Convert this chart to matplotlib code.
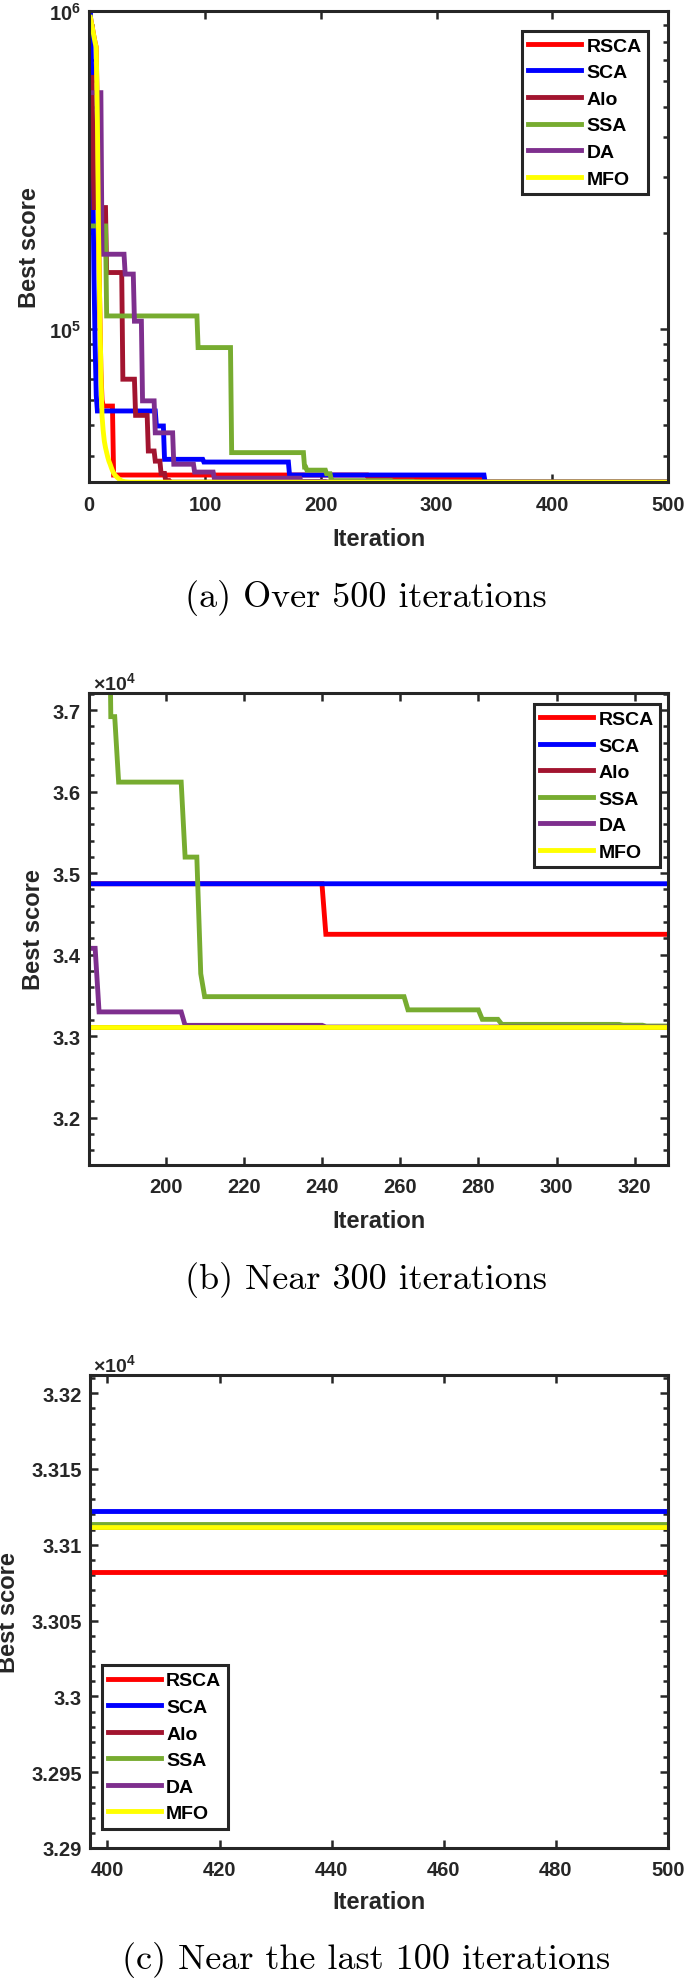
import math
import matplotlib
matplotlib.use("Agg")
import matplotlib.pyplot as plt
from matplotlib.ticker import FixedLocator, FuncFormatter, MultipleLocator, NullLocator, LogLocator

plt.rcParams['font.family'] = ['Liberation Sans', 'DejaVu Sans']
plt.rcParams['font.weight'] = 'bold'
plt.rcParams['mathtext.fontset'] = 'custom'
plt.rcParams['mathtext.rm'] = 'Liberation Sans:bold'
plt.rcParams['mathtext.bf'] = 'Liberation Sans:bold'
plt.rcParams['mathtext.it'] = 'Liberation Sans:bold'

# ---------------- data (iteration, best score) vertices ----------------
algorithms = ['RSCA', 'SCA', 'Alo', 'SSA', 'DA', 'MFO']
colors = ['#FF0000', '#0000FF', '#A2142F', '#77AC30', '#7E2F8E', '#FFFF00']

rsca_iter = [1, 2, 3, 4, 5, 6, 7, 8, 9, 10, 11, 12, 20, 21, 240, 241, 339, 340, 500]
rsca_val = [953e3, 910e3, 870e3, 830e3, 795e3, 767e3, 450e3, 200e3, 120e3, 75e3, 60e3, 57.4e3,
            57.4e3, 34.87e3, 34.87e3, 34.25e3, 34.25e3, 33.082e3, 33.082e3]

sca_iter = [1, 2, 3, 4, 5, 6, 7, 57, 58, 64, 65, 98, 99, 172, 173, 341, 342, 500]
sca_val = [1000e3, 650e3, 300e3, 150e3, 90e3, 62e3, 55.4e3, 55.4e3, 49.7e3, 49.7e3, 39.06e3,
           39.06e3, 38.3e3, 38.3e3, 34.87e3, 34.87e3, 33.122e3, 33.122e3]

alo_iter = [1, 2, 3, 4, 14, 15, 28, 29, 39, 40, 50, 51, 56, 57, 61, 62, 65, 66, 69, 70, 500]
alo_val = [617.5e3, 617.5e3, 420e3, 241e3, 241e3, 150.7e3, 150.7e3, 69.7e3, 69.7e3, 53.67e3,
           53.67e3, 41.48e3, 41.48e3, 38.55e3, 38.55e3, 35.28e3, 35.28e3, 33.5e3, 33.5e3,
           33.112e3, 33.112e3]

ssa_iter = [1, 14, 15, 93, 94, 122, 123, 185, 186, 187, 188, 204, 205, 208, 209, 210, 261, 262,
            280, 281, 285, 286, 316, 317, 322, 323, 330, 331, 500]
ssa_val = [211e3, 211e3, 110.1e3, 110.1e3, 87.6e3, 87.6e3, 41e3, 41e3, 36.92e3, 36.92e3,
           36.117e3, 36.117e3, 35.197e3, 35.197e3, 33.767e3, 33.485e3, 33.485e3, 33.323e3,
           33.323e3, 33.207e3, 33.207e3, 33.145e3, 33.145e3, 33.135e3, 33.135e3, 33.125e3,
           33.125e3, 33.114e3, 33.114e3]

da_iter = [1, 10, 11, 30, 31, 38, 39, 45, 46, 56, 57, 72, 73, 90, 91, 107, 108, 182, 183, 204,
           205, 240, 241, 500]
da_val = [553e3, 553e3, 172e3, 172e3, 149e3, 149e3, 106e3, 106e3, 59.6e3, 59.6e3, 47.3e3,
          47.3e3, 37.7e3, 37.7e3, 35.62e3, 35.62e3, 34.078e3, 34.078e3, 33.298e3, 33.298e3,
          33.133e3, 33.133e3, 33.112e3, 33.112e3]

mfo_iter = [1, 2, 3, 4, 5, 6, 7, 8, 9, 10, 11, 12, 13, 14, 15, 16, 17, 18, 19, 20, 21, 22, 24,
            26, 28, 31, 35, 500]
mfo_val = [953e3, 910e3, 870e3, 830e3, 795e3, 767e3, 450e3, 200e3, 120e3, 75e3, 53.44e3, 48e3,
           44.5e3, 42.5e3, 41e3, 39.6e3, 38.5e3, 37.7e3, 36.8e3, 36e3, 35.4e3, 34.9e3, 34.3e3,
           33.8e3, 33.4e3, 33.2e3, 33.112e3, 33.112e3]

series_iters = [rsca_iter, sca_iter, alo_iter, ssa_iter, da_iter, mfo_iter]
series_vals = [rsca_val, sca_val, alo_val, ssa_val, da_val, mfo_val]

captions = ['(a) Over 500 iterations', '(b) Near 300 iterations', '(c) Near the last 100 iterations']
xticks_a = [0, 100, 200, 300, 400, 500]
xticks_b = [200, 220, 240, 260, 280, 300, 320]
xticks_c = [400, 420, 440, 460, 480, 500]
yticks_b = [3.2e4, 3.3e4, 3.4e4, 3.5e4, 3.6e4, 3.7e4]
yticks_c = [3.29e4, 3.295e4, 3.30e4, 3.305e4, 3.31e4, 3.315e4, 3.32e4]

# ---------------- figure ----------------
W, H = 685, 1983
fig = plt.figure(figsize=(W / 100, H / 100), dpi=100)
DARK = '#262626'
LW = 3.5


def axes_px(l, r, t, b):
    return fig.add_axes([l / W, 1 - b / H, (r - l) / W, (b - t) / H])


def style(ax):
    for s in ax.spines.values():
        s.set_linewidth(2.2)
        s.set_color(DARK)
    ax.tick_params(which='both', direction='in', top=True, right=True, color=DARK,
                   labelcolor=DARK, width=1.8)
    ax.tick_params(which='major', length=6, labelsize=14.5)
    ax.tick_params(which='minor', length=3.5)
    ax.tick_params(axis='x', pad=9)
    ax.tick_params(axis='y', pad=6)
    ax.set_xlabel('Iteration', fontsize=17, fontweight='bold', color=DARK)
    ax.set_ylabel('Best score', fontsize=17, fontweight='bold', color=DARK)
    ax.xaxis.label.set_verticalalignment('center')
    ax.yaxis.label.set_verticalalignment('center')


def draw(ax):
    for name, c, xs, ys in zip(algorithms, colors, series_iters, series_vals):
        ax.plot(xs, ys, color=c, lw=LW, label=name, solid_joinstyle='miter')


def legend(ax, x, y):
    leg = ax.legend(loc='upper left', bbox_to_anchor=(x, y), borderaxespad=0,
                    fontsize=14, handlelength=2.7, handletextpad=0.28,
                    labelspacing=0.46, borderpad=0.33, fancybox=False, framealpha=1,
                    edgecolor=DARK)
    leg.get_frame().set_linewidth(2.2)
    for t in leg.get_texts():
        t.set_fontweight('bold')
        t.set_color('black')
    return leg


sci = FuncFormatter(lambda v, p: f'{v / 1e4:g}')

# (a)
axA = axes_px(89.3, 668, 11.7, 483.3)
draw(axA)
axA.set_yscale('log')
axA.set_xlim(0, 500)
axA.set_ylim(33082, 1e6)
axA.xaxis.set_major_locator(FixedLocator(xticks_a))
axA.xaxis.set_minor_locator(NullLocator())
axA.yaxis.set_major_locator(FixedLocator([1e5, 1e6]))
axA.yaxis.set_minor_locator(LogLocator(base=10, subs=range(2, 10)))
axA.yaxis.set_major_formatter(FuncFormatter(lambda v, p: r'$\mathbf{10^{%d}}$' % round(math.log10(v))))
axA.yaxis.set_minor_formatter(FuncFormatter(lambda v, p: ''))
style(axA)
legend(axA, 0.7476, 0.9576)
axA.xaxis.set_label_coords(0.5, -(540 - 483.3) / 471.6)
axA.yaxis.set_label_coords((29 - 89.3) / 578.7, 0.5)

# (b)
axB = axes_px(89.3, 668, 694, 1166)
draw(axB)
axB.set_xlim(180.5, 328.5)
axB.set_ylim(31420, 37210)
axB.xaxis.set_major_locator(FixedLocator(xticks_b))
axB.xaxis.set_minor_locator(NullLocator())
axB.yaxis.set_major_locator(FixedLocator(yticks_b))
axB.yaxis.set_minor_locator(MultipleLocator(200))
axB.yaxis.set_major_formatter(sci)
style(axB)
legend(axB, 0.7684, 0.9767)
axB.text(0.006, 1.0, r'$\times\mathbf{10^{4}}$', transform=axB.transAxes, ha='left',
         va='bottom', fontsize=14, color=DARK)
axB.xaxis.set_label_coords(0.5, -(1222 - 1166) / 472)
axB.yaxis.set_label_coords((33.5 - 89.3) / 578.7, 0.5)

# (c)
axC = axes_px(90, 668, 1376, 1849)
draw(axC)
axC.set_xlim(396.9, 500)
axC.set_ylim(32900, 33212)
axC.xaxis.set_major_locator(FixedLocator(xticks_c))
axC.xaxis.set_minor_locator(NullLocator())
axC.yaxis.set_major_locator(FixedLocator(yticks_c))
axC.yaxis.set_minor_locator(MultipleLocator(10))
axC.yaxis.set_major_formatter(sci)
style(axC)
legend(axC, 0.0202, 0.386)
axC.text(0.006, 1.0, r'$\times\mathbf{10^{4}}$', transform=axC.transAxes, ha='left',
         va='bottom', fontsize=14, color=DARK)
axC.xaxis.set_label_coords(0.5, -(1903 - 1849) / 473)
axC.yaxis.set_label_coords((9 - 90) / 578, 0.5)

# captions
for cap, yc in zip(captions, [598, 1280, 1960]):
    fig.text(366 / W, 1 - yc / H, cap, family='cmr10', fontweight='normal', fontsize=26,
             ha='center', va='center', color='black')

fig.savefig('out.png', dpi=100, facecolor='white')
